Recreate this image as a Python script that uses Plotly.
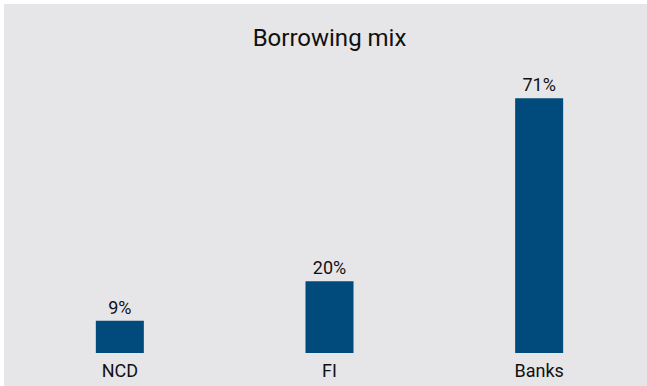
import plotly.graph_objects as go

categories = ["NCD", "FI", "Banks"]
values = [9, 20, 71]
labels = ["9%", "20%", "71%"]

W, H = 647, 386
ml, mr, mt, mb = 15, 3, 80, 33
pw = W - ml - mr
ph = H - mt - mb

fig = go.Figure(go.Bar(
    x=categories, y=values, text=labels,
    textposition="outside", cliponaxis=False,
    marker=dict(color="#004a7c", line=dict(width=0)),
    width=0.229,
    textfont=dict(family="Roboto", size=18, color="#111111"),
))

fig.update_layout(
    width=W, height=H,
    margin=dict(l=ml, r=mr, t=mt, b=mb, pad=0),
    paper_bgcolor="#e6e6e8", plot_bgcolor="#e6e6e8",
    title=dict(text="Borrowing mix", x=0.5, xref="paper", xanchor="center",
               y=1 - 38 / H, yanchor="middle",
               font=dict(family="Roboto", size=24, color="#111111")),
    xaxis=dict(showgrid=False, zeroline=False, showline=False, ticks="",
               tickfont=dict(family="Roboto", size=18, color="#111111"),
               ticklabelstandoff=5,
               range=[-0.5, 2.5]),
    yaxis=dict(visible=False, range=[0, ph / 3.587]),
    showlegend=False,
    shapes=[
        dict(type="rect", xref="paper", yref="paper",
             x0=-ml / pw, x1=(W - ml) / pw, y0=(ph + mt - 4) / ph, y1=(ph + mt) / ph,
             fillcolor="white", line=dict(width=0), layer="above"),
        dict(type="rect", xref="paper", yref="paper",
             x0=-ml / pw, x1=(4 - ml) / pw, y0=-mb / ph, y1=(ph + mt) / ph,
             fillcolor="white", line=dict(width=0), layer="above"),
    ],
)

fig.write_html("out.html")
